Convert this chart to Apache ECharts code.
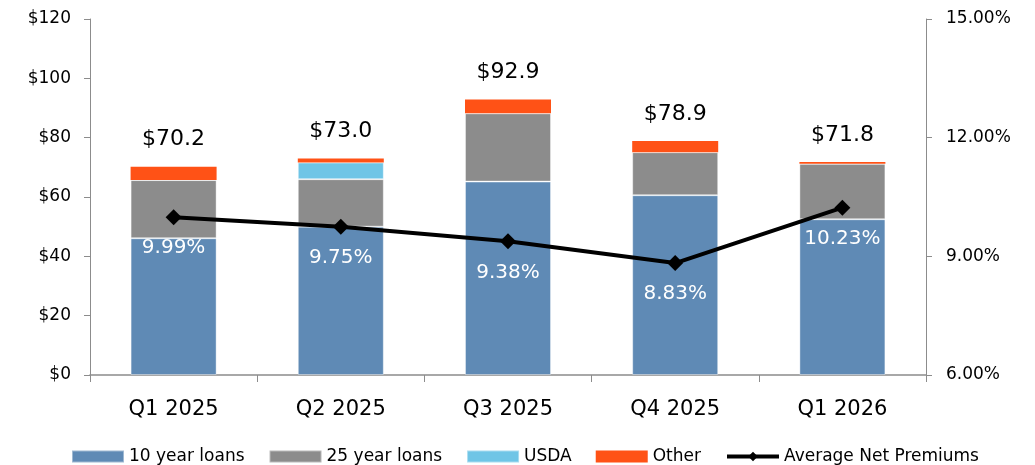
<!DOCTYPE html>
<html>
<head>
<meta charset="utf-8">
<script src="https://cdn.jsdelivr.net/npm/echarts@6/dist/echarts.min.js"></script>
<style>
  html, body { margin: 0; padding: 0; background: #fff; }
  #chart { width: 1035px; height: 465px; }
</style>
</head>
<body>
<div id="chart"></div>
<script>
const quarters = ["Q1 2025", "Q2 2025", "Q3 2025", "Q4 2025", "Q1 2026"];
const tenYear = [46.1, 50.0, 65.2, 60.6, 52.5];
const twentyFiveYear = [19.6, 16.0, 23.0, 14.5, 18.7];
const usda = [0, 5.6, 0, 0, 0];
const other = [4.5, 1.4, 4.7, 3.8, 0.6];
const totals = [70.2, 73.0, 92.9, 78.9, 71.8];
const netPremiums = [9.99, 9.75, 9.38, 8.83, 10.23];

const FONT = "'DejaVu Sans', sans-serif";
const chart = echarts.init(document.getElementById("chart"));

const barBorder = { borderColor: "rgba(255,255,255,0.4)", borderWidth: 1 };

const option = {
  animation: false,
  textStyle: { fontFamily: FONT },
  grid: { left: 90, right: 109, top: 19, bottom: 90 },
  legend: {
    top: 443,
    left: 66,
    itemWidth: 52,
    itemHeight: 12,
    itemGap: 24,
    textStyle: { fontSize: 17, color: "#000", fontFamily: FONT },
    data: [
      { name: "10 year loans", icon: "rect" },
      { name: "25 year loans", icon: "rect" },
      { name: "USDA", icon: "rect" },
      { name: "Other", icon: "rect" },
      { name: "Average Net Premiums", lineStyle: { width: 4 } },
    ],
  },
  xAxis: {
    type: "category",
    data: quarters,
    axisLine: { lineStyle: { color: "#8c8c8c", width: 1.5 } },
    axisTick: { show: true, length: 7, lineStyle: { color: "#8c8c8c" } },
    axisLabel: { color: "#000", fontSize: 21, margin: 24, fontFamily: FONT },
  },
  yAxis: [
    {
      type: "value",
      min: 0,
      max: 120,
      interval: 20,
      axisLine: { show: true, lineStyle: { color: "#8c8c8c" } },
      axisTick: { show: true, length: 6, lineStyle: { color: "#8c8c8c" } },
      splitLine: { show: false },
      axisLabel: {
        color: "#000",
        fontSize: 17,
        margin: 19,
        fontFamily: FONT,
        formatter: (v) => "$" + v,
      },
    },
    {
      type: "value",
      min: 6,
      max: 15,
      interval: 3,
      axisLine: { show: true, lineStyle: { color: "#8c8c8c" } },
      axisTick: { show: true, length: 6, lineStyle: { color: "#8c8c8c" } },
      splitLine: { show: false },
      axisLabel: {
        color: "#000",
        fontSize: 17,
        margin: 20,
        fontFamily: FONT,
        formatter: (v) => v.toFixed(2) + "%",
      },
    },
  ],
  series: [
    {
      name: "10 year loans",
      type: "bar",
      stack: "total",
      barWidth: 86,
      itemStyle: Object.assign({ color: "#5f8ab5" }, barBorder),
      data: tenYear,
    },
    {
      name: "25 year loans",
      type: "bar",
      stack: "total",
      itemStyle: Object.assign({ color: "#8c8c8c" }, barBorder),
      data: twentyFiveYear,
    },
    {
      name: "USDA",
      type: "bar",
      stack: "total",
      itemStyle: Object.assign({ color: "#6fc5e6" }, barBorder),
      data: usda,
    },
    {
      name: "Other",
      type: "bar",
      stack: "total",
      itemStyle: { color: "#ff5216" },
      label: {
        show: true,
        position: "top",
        distance: 16,
        color: "#000",
        fontSize: 22,
        fontFamily: FONT,
        formatter: (p) => "$" + totals[p.dataIndex].toFixed(1),
      },
      data: other,
    },
    {
      name: "Average Net Premiums",
      type: "line",
      yAxisIndex: 1,
      symbol: "diamond",
      symbolSize: 16,
      itemStyle: { color: "#000" },
      lineStyle: { color: "#000", width: 4 },
      label: {
        show: true,
        position: "bottom",
        distance: 13,
        color: "#fff",
        fontSize: 20,
        fontFamily: FONT,
        formatter: (p) => p.value.toFixed(2) + "%",
      },
      z: 5,
      data: netPremiums,
    },
  ],
};
chart.setOption(option);
</script>
</body>
</html>
